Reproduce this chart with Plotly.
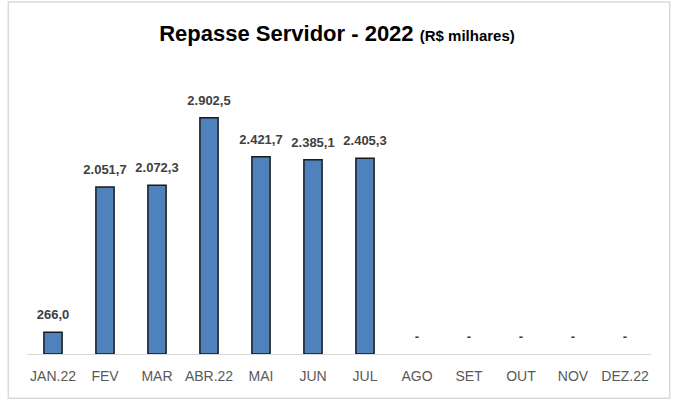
import plotly.graph_objects as go

meses = ["JAN.22", "FEV", "MAR", "ABR.22", "MAI", "JUN", "JUL",
         "AGO", "SET", "OUT", "NOV", "DEZ.22"]
valores = [266.0, 2051.7, 2072.3, 2902.5, 2421.7, 2385.1, 2405.3,
           0, 0, 0, 0, 0]


def fmt(v):
    if v == 0:
        return "-"
    s = "{:,.1f}".format(v)
    return s.replace(",", "X").replace(".", ",").replace("X", ".")


rotulos = [fmt(v) for v in valores]
barras = [v if v else None for v in valores]

fig = go.Figure()
fig.add_trace(go.Bar(
    x=meses, y=barras,
    marker=dict(color="#4F81BD", line=dict(color="#1a1a1a", width=1.5)),
    width=0.35,
    hoverinfo="x+y",
))
fig.add_trace(go.Scatter(
    x=meses, y=valores, mode="markers+text", text=rotulos,
    textposition="top center",
    marker=dict(size=14, color="rgba(0,0,0,0)"),
    textfont=dict(family="Liberation Sans, Arial", size=13,
                  color="#404040", weight="bold"),
    hoverinfo="skip",
))

fig.update_layout(
    width=674, height=401,
    margin=dict(l=27, r=23, t=69, b=47),
    paper_bgcolor="white", plot_bgcolor="white",
    showlegend=False,
    title=dict(
        text="<b>Repasse Servidor - 2022</b> <b><span style='font-size:15px'>(R$ milhares)</span></b>",
        x=0.5, xanchor="center", y=0.918, yanchor="middle",
        font=dict(family="Liberation Sans, Arial", size=22, color="#000000"),
    ),
    xaxis=dict(
        range=[-0.5, 11.5],
        showline=True, linecolor="#d9d9d9", linewidth=1,
        ticks="", showgrid=False, automargin=False,
        ticklabelstandoff=9,
        tickfont=dict(family="Liberation Sans, Arial", size=14, color="#595959"),
    ),
    yaxis=dict(
        range=[0, 3500], visible=False, showgrid=False, zeroline=False,
    ),
    shapes=[dict(type="rect", xref="paper", yref="paper",
                 x0=-0.03, x1=1.03, y0=-0.155, y1=1.235,
                 line=dict(color="#d9d9d9", width=1.5))],
)

fig.write_html("out.html", config={"displayModeBar": False},
               post_script="document.body.style.margin='0';")
